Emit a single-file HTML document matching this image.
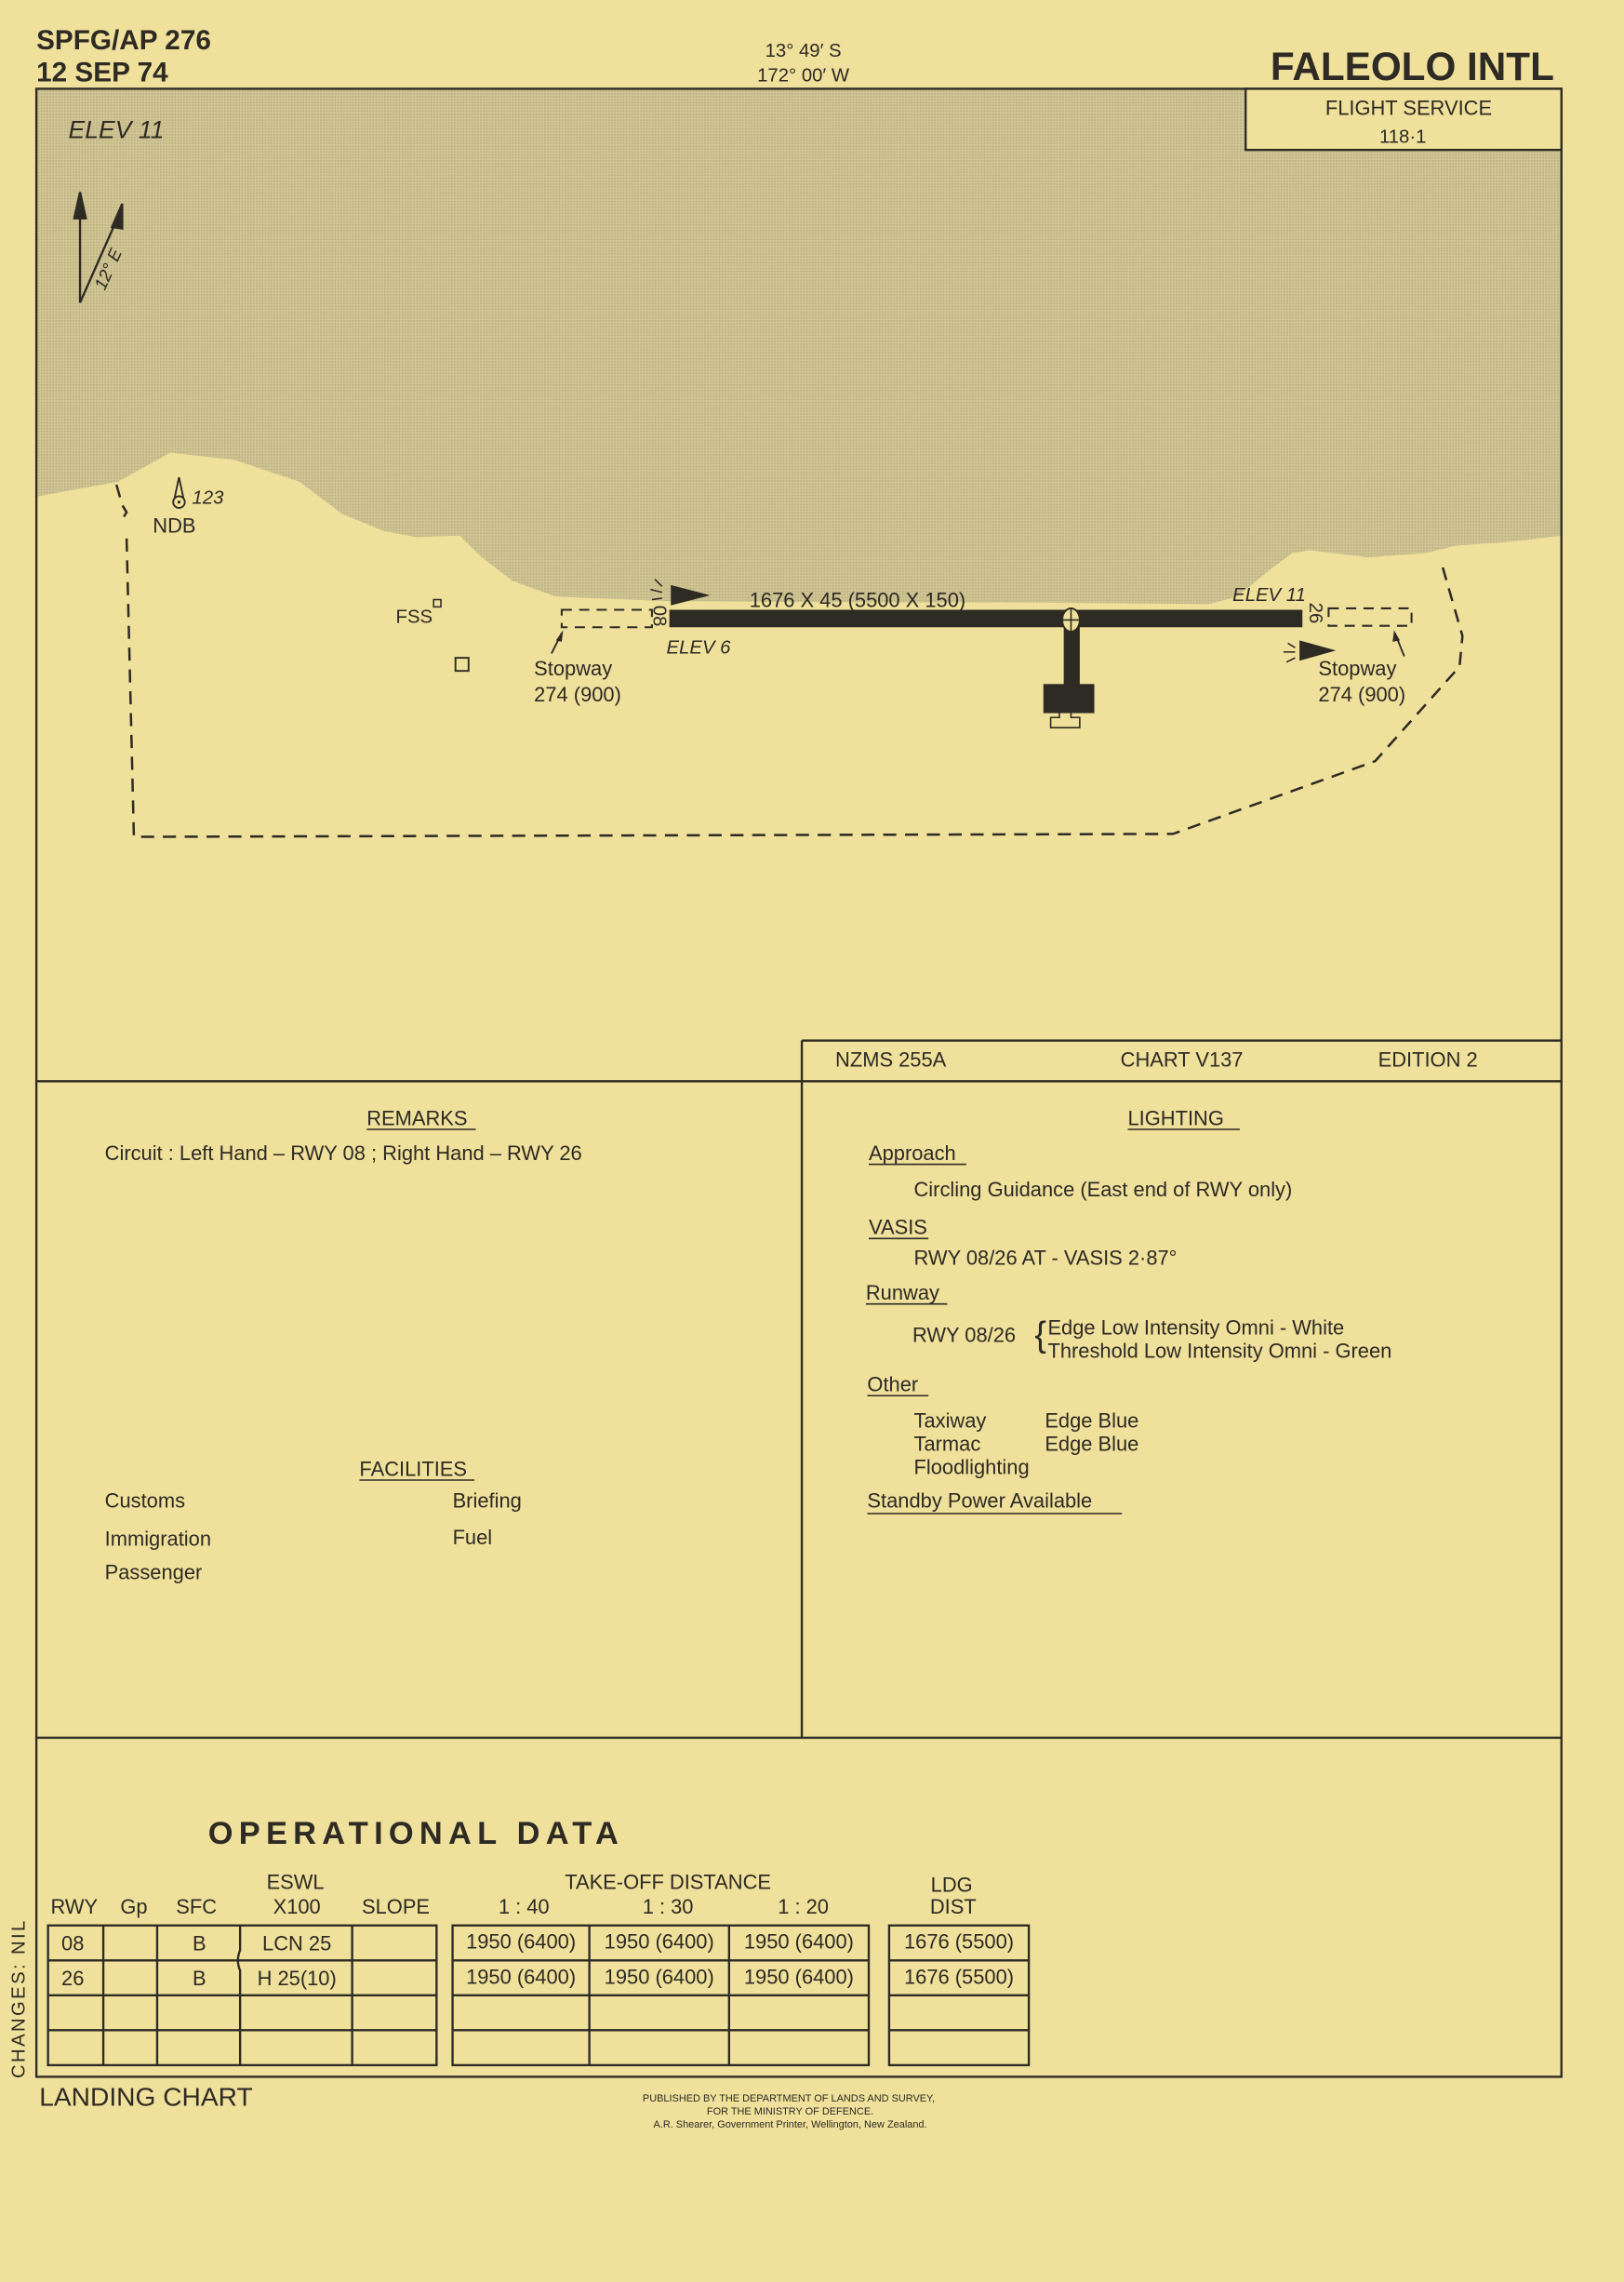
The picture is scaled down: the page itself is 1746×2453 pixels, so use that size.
<!DOCTYPE html>
<html><head><meta charset="utf-8"><style>
html,body{margin:0;padding:0;background:#efe09b;}
svg{display:block}
text{font-family:"Liberation Sans",sans-serif;fill:#2e2a24}
</style></head><body>
<svg width="1746" height="2453" viewBox="0 0 1116 1568" preserveAspectRatio="none" xmlns="http://www.w3.org/2000/svg">
<defs>
<pattern id="dots" width="2" height="2" patternUnits="userSpaceOnUse">
<rect width="2" height="2" fill="#d0c592"/><rect width="1" height="1" fill="#b8ae82"/>
</pattern>
</defs>
<rect width="1116" height="1568" fill="#efe09b"/>
<!-- sea -->
<polygon fill="url(#dots)" points="25,61 1073,61 1073,368 1040,372 1000,375 980,380 940,383 900,378 888,380 872,392 850,410 831,415 700,414 600,414 459,413 382,410 352,399 330,382 316,368 286,369 264,365 235,353 206,331 161,316 117,311 81,331 26,341"/>
<!-- header -->
<text x="25" y="34" font-size="19" font-weight="bold">SPFG/AP 276</text>
<text x="25" y="56" font-size="19" font-weight="bold">12 SEP 74</text>
<text x="552" y="39" font-size="13" text-anchor="middle">13° 49′ S</text>
<text x="552" y="56" font-size="13" text-anchor="middle">172° 00′ W</text>
<text x="1068" y="55" font-size="27" font-weight="bold" text-anchor="end">FALEOLO INTL</text>
<!-- frame -->
<rect x="25" y="61" width="1048" height="1366" fill="none" stroke="#2e2a24" stroke-width="1.5"/>
<rect x="856" y="61" width="217" height="42" fill="#efe09b" stroke="#2e2a24" stroke-width="1.5"/>
<text x="968" y="79" font-size="14" text-anchor="middle">FLIGHT SERVICE</text>
<text x="964" y="98" font-size="13" text-anchor="middle">118·1</text>
<text x="47" y="95" font-size="17" font-style="italic">ELEV 11</text>
<!-- north arrows -->
<g stroke="#2e2a24" stroke-width="1.5" fill="#2e2a24">
<line x1="55" y1="208" x2="55" y2="140"/><polygon points="55,132 51,150 59,150"/>
<line x1="55" y1="208" x2="82" y2="147"/><polygon points="84,140 77,156 84,157"/>
</g>
<text x="0" y="0" font-size="12" font-style="italic" transform="translate(72,200) rotate(-66)">12° E</text>
<!-- NDB -->
<circle cx="123" cy="345" r="4" fill="none" stroke="#2e2a24" stroke-width="1.2"/>
<circle cx="123" cy="345" r="1" fill="#2e2a24"/>
<path d="M120,342 L123,328 L126,342" fill="none" stroke="#2e2a24" stroke-width="1.2"/>
<text x="132" y="346" font-size="13" font-style="italic">123</text>
<text x="105" y="366" font-size="14">NDB</text>
<text x="272" y="428" font-size="13">FSS</text>
<rect x="298" y="412" width="5" height="5" fill="none" stroke="#2e2a24"/>
<rect x="313" y="452" width="9" height="9" fill="none" stroke="#2e2a24" stroke-width="1.2"/>
<!-- boundary -->
<path d="M80,333 L84,347 L87,352 L84,357 M87,370 L92,575 L806,573 L945,523 L1003,458 L1005,437 L990,385" fill="none" stroke="#2e2a24" stroke-width="1.6" stroke-dasharray="9,6"/>
<!-- runway -->
<rect x="460" y="419" width="435" height="12" fill="#2e2a24"/>
<rect x="731" y="428" width="11" height="50" fill="#2e2a24"/>
<rect x="717" y="470" width="35" height="20" fill="#2e2a24"/>
<path d="M722,500 L722,493 L728,493 L728,489 L736,489 L736,493 L742,493 L742,500 Z" fill="none" stroke="#2e2a24" stroke-width="1"/>
<ellipse cx="736" cy="426" rx="6" ry="8" fill="#efe09b" stroke="#2e2a24" stroke-width="1.2"/>
<line x1="730" y1="426" x2="742" y2="426" stroke="#2e2a24"/><line x1="736" y1="418" x2="736" y2="434" stroke="#2e2a24"/>
<rect x="386" y="419" width="62" height="12" fill="none" stroke="#2e2a24" stroke-width="1.3" stroke-dasharray="7,5"/>
<rect x="913" y="418" width="57" height="12" fill="none" stroke="#2e2a24" stroke-width="1.3" stroke-dasharray="7,5"/>
<polygon points="461,402 488,409 461,416" fill="#2e2a24"/>
<polygon points="893,440 918,447 893,454" fill="#2e2a24"/>
<g stroke="#2e2a24" stroke-width="1"><line x1="450" y1="398" x2="455" y2="403"/><line x1="447" y1="405" x2="455" y2="407"/><line x1="448" y1="412" x2="455" y2="411"/><line x1="885" y1="442" x2="890" y2="445"/><line x1="882" y1="448" x2="890" y2="448"/><line x1="884" y1="455" x2="890" y2="452"/></g>
<text x="0" y="0" font-size="13" transform="translate(449,416) rotate(90)">08</text>
<text x="0" y="0" font-size="13" transform="translate(900,414) rotate(90)">26</text>
<text x="515" y="417" font-size="14">1676 X 45   (5500 X 150)</text>
<text x="847" y="413" font-size="13" font-style="italic">ELEV 11</text>
<text x="458" y="449" font-size="13" font-style="italic">ELEV 6</text>
<path d="M379,449 L386,435" stroke="#2e2a24" stroke-width="1.2"/><polygon points="387,433 382,440 386,441" fill="#2e2a24"/>
<path d="M965,451 L959,436" stroke="#2e2a24" stroke-width="1.2"/><polygon points="958,433 957,441 962,440" fill="#2e2a24"/>
<text x="367" y="464" font-size="14">Stopway</text><text x="367" y="482" font-size="14">274 (900)</text>
<text x="906" y="464" font-size="14">Stopway</text><text x="906" y="482" font-size="14">274 (900)</text>
<!-- lower frame -->
<g stroke="#2e2a24" stroke-width="1.5" fill="none">
<line x1="25" y1="743" x2="1073" y2="743"/>
<line x1="551" y1="715" x2="1073" y2="715"/>
<line x1="551" y1="715" x2="551" y2="1194"/>
<line x1="25" y1="1194" x2="1073" y2="1194"/>
</g>
<text x="574" y="733" font-size="14">NZMS 255A</text>
<text x="770" y="733" font-size="14">CHART V137</text>
<text x="947" y="733" font-size="14">EDITION 2</text>
<g font-size="14">
<text x="252" y="773">REMARKS</text><line x1="252" y1="776" x2="327" y2="776" stroke="#2e2a24"/>
<text x="72" y="797">Circuit :  Left Hand – RWY 08 ; Right Hand – RWY 26</text>
<text x="247" y="1014">FACILITIES</text><line x1="247" y1="1017" x2="326" y2="1017" stroke="#2e2a24"/>
<text x="72" y="1036">Customs</text><text x="311" y="1036">Briefing</text>
<text x="72" y="1062">Immigration</text><text x="311" y="1061">Fuel</text>
<text x="72" y="1085">Passenger</text>
<text x="775" y="773">LIGHTING</text><line x1="775" y1="776" x2="852" y2="776" stroke="#2e2a24"/>
<text x="597" y="797">Approach</text><line x1="597" y1="800" x2="664" y2="800" stroke="#2e2a24"/>
<text x="628" y="822">Circling Guidance (East end of RWY only)</text>
<text x="597" y="848">VASIS</text><line x1="597" y1="851" x2="638" y2="851" stroke="#2e2a24"/>
<text x="628" y="869">RWY 08/26   AT - VASIS 2·87°</text>
<text x="595" y="893">Runway</text><line x1="595" y1="896" x2="651" y2="896" stroke="#2e2a24"/>
<text x="627" y="922">RWY 08/26</text>
<text x="711" y="925" font-size="24">{</text>
<text x="720" y="917">Edge  Low  Intensity  Omni - White</text>
<text x="720" y="933">Threshold  Low  Intensity  Omni - Green</text>
<text x="596" y="956">Other</text><line x1="596" y1="959" x2="638" y2="959" stroke="#2e2a24"/>
<text x="628" y="981">Taxiway</text><text x="718" y="981">Edge Blue</text>
<text x="628" y="997">Tarmac</text><text x="718" y="997">Edge Blue</text>
<text x="628" y="1013">Floodlighting</text>
<text x="596" y="1036">Standby  Power  Available</text><line x1="596" y1="1040" x2="771" y2="1040" stroke="#2e2a24"/>
</g>
<!-- operational data -->
<text x="143" y="1267" font-size="22" font-weight="bold" letter-spacing="4">OPERATIONAL   DATA</text>
<g font-size="14" text-anchor="middle">
<text x="51" y="1315">RWY</text><text x="92" y="1315">Gp</text><text x="135" y="1315">SFC</text>
<text x="203" y="1298">ESWL</text><text x="204" y="1315">X100</text><text x="272" y="1315">SLOPE</text>
<text x="459" y="1298">TAKE-OFF DISTANCE</text>
<text x="360" y="1315">1 : 40</text><text x="459" y="1315">1 : 30</text><text x="552" y="1315">1 : 20</text>
<text x="654" y="1300">LDG</text><text x="655" y="1315">DIST</text>
<text x="50" y="1340">08</text><text x="137" y="1340">B</text><text x="204" y="1340">LCN 25</text>
<text x="50" y="1364">26</text><text x="137" y="1364">B</text><text x="204" y="1364">H 25(10)</text>
<text x="358" y="1339">1950 (6400)</text><text x="453" y="1339">1950 (6400)</text><text x="549" y="1339">1950 (6400)</text>
<text x="358" y="1363">1950 (6400)</text><text x="453" y="1363">1950 (6400)</text><text x="549" y="1363">1950 (6400)</text>
<text x="659" y="1339">1676 (5500)</text><text x="659" y="1363">1676 (5500)</text>
</g>
<g stroke="#2e2a24" stroke-width="1.5" fill="none">
<rect x="33" y="1323" width="267" height="96"/>
<rect x="311" y="1323" width="286" height="96"/>
<rect x="611" y="1323" width="96" height="96"/>
<line x1="33" y1="1347" x2="300" y2="1347"/><line x1="33" y1="1371" x2="300" y2="1371"/><line x1="33" y1="1395" x2="300" y2="1395"/>
<line x1="311" y1="1347" x2="597" y2="1347"/><line x1="311" y1="1371" x2="597" y2="1371"/><line x1="311" y1="1395" x2="597" y2="1395"/>
<line x1="611" y1="1347" x2="707" y2="1347"/><line x1="611" y1="1371" x2="707" y2="1371"/><line x1="611" y1="1395" x2="707" y2="1395"/>
<line x1="71" y1="1323" x2="71" y2="1419"/><line x1="108" y1="1323" x2="108" y2="1419"/><line x1="242" y1="1323" x2="242" y2="1419"/>
<path d="M165,1323 L165,1340 Q162,1347 165,1354 L165,1419"/>
<line x1="405" y1="1323" x2="405" y2="1419"/><line x1="501" y1="1323" x2="501" y2="1419"/>
</g>
<text x="0" y="0" font-size="13" letter-spacing="1.5" transform="translate(17,1428) rotate(-90)">CHANGES: NIL</text>
<text x="27" y="1447" font-size="18">LANDING CHART</text>
<g font-size="7" text-anchor="middle">
<text x="542" y="1444">PUBLISHED  BY  THE  DEPARTMENT  OF  LANDS  AND  SURVEY,</text>
<text x="543" y="1453">FOR  THE  MINISTRY  OF  DEFENCE.</text>
<text x="543" y="1462">A.R. Shearer,  Government  Printer,  Wellington,  New  Zealand.</text>
</g>
</svg>
</body></html>
